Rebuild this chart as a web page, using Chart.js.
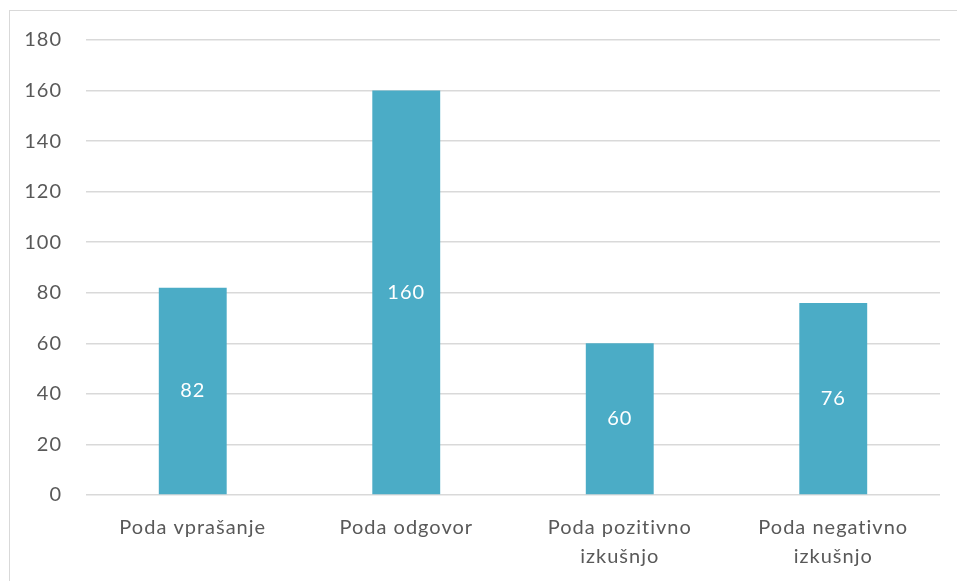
<!DOCTYPE html>
<html>
<head>
<meta charset="utf-8">
<script src="https://cdn.jsdelivr.net/npm/chart.js@4"></script>
<style>
    html, body { margin: 0; padding: 0; background: #fff; }
    #wrap { position: relative; width: 957px; height: 581px; overflow: hidden; }
    #frame { position: absolute; left: 9px; top: 10px; width: 1000px; height: 700px; border: 1px solid #d9d9d9; }
    #box { position: absolute; left: 0; top: 0; width: 957px; height: 581px; }
</style>
</head>
<body>
<div id="wrap">
    <div id="frame"></div>
    <div id="box"><canvas id="chart"></canvas></div>
</div>
<script>
const categories = [
    'Poda vprašanje',
    'Poda odgovor',
    ['Poda pozitivno', 'izkušnjo'],
    ['Poda negativno', 'izkušnjo']
];
const counts = [82, 160, 60, 76];
const yTicks = [0, 20, 40, 60, 80, 100, 120, 140, 160, 180];

const fontName = 'Lato, "Open Sans", sans-serif';

// the original text is a bit spaced out, so widen letters on the canvas
const spacing = {
    id: 'spacing',
    beforeDraw(chart) { chart.ctx.letterSpacing = '1px'; }
};

// white value labels in the middle of each bar
const centerLabels = {
    id: 'centerLabels',
    afterDatasetsDraw(chart) {
        const ctx = chart.ctx;
        const meta = chart.getDatasetMeta(0);
        ctx.save();
        ctx.fillStyle = '#ffffff';
        ctx.font = '20px ' + fontName;
        ctx.textAlign = 'center';
        ctx.textBaseline = 'middle';
        meta.data.forEach((bar, i) => {
            ctx.fillText(String(counts[i]), bar.x, (bar.y + bar.base) / 2);
        });
        ctx.restore();
    }
};

new Chart('chart', {
    type: 'bar',
    data: {
        labels: categories,
        datasets: [{
            data: counts,
            backgroundColor: '#4bacc6',
            categoryPercentage: 1,
            barPercentage: 0.318
        }]
    },
    options: {
        responsive: true,
        maintainAspectRatio: false,
        animation: false,
        layout: { padding: { top: 40, right: 17, left: 0, bottom: 0 } },
        plugins: {
            legend: { display: false },
            tooltip: { enabled: false }
        },
        scales: {
            x: {
                grid: { display: false },
                border: { display: false },
                ticks: {
                    color: '#595959',
                    font: { family: fontName, size: 20, lineHeight: 1.45 },
                    padding: 10,
                    maxRotation: 0
                },
                afterFit(scale) { scale.height = 86; }
            },
            y: {
                min: 0,
                max: 180,
                grid: { color: '#d9d9d9', lineWidth: 1.5, drawTicks: false },
                border: { display: false },
                afterBuildTicks(scale) { scale.ticks = yTicks.map(v => ({ value: v })); },
                ticks: {
                    color: '#595959',
                    font: { family: fontName, size: 20 },
                    padding: 24
                },
                afterFit(scale) { scale.width = 86; }
            }
        }
    },
    plugins: [spacing, centerLabels]
});
</script>
</body>
</html>
